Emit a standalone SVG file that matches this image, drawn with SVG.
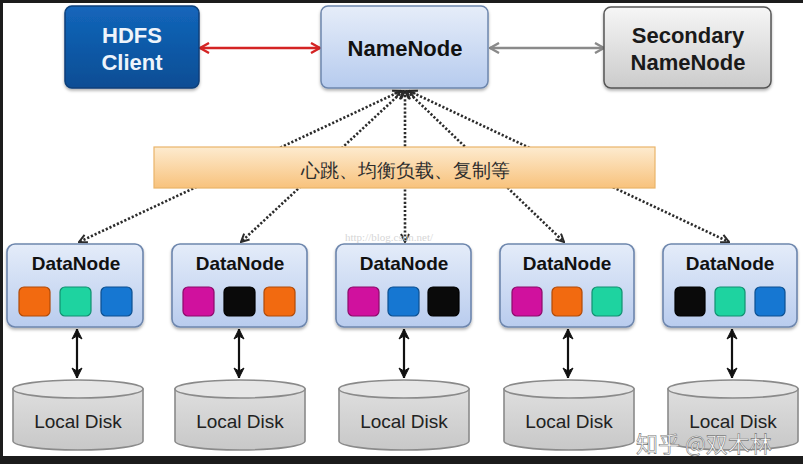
<svg xmlns="http://www.w3.org/2000/svg" width="803" height="464" viewBox="0 0 803 464">
<style>
.t{font-family:"Liberation Sans",Arial,sans-serif;text-anchor:middle}
.b{font-weight:bold}
.dot{fill:none;stroke:#2b2b2b;stroke-width:2.6;stroke-dasharray:2.2 1.9;marker-end:url(#chev);marker-start:url(#chevs)}
.dn{fill:url(#gDN);stroke:#6d86ad;stroke-width:1.6}
.sq{stroke-width:1.2}
.disk{fill:url(#gDisk);stroke:#8a8a8a;stroke-width:1.6}
.disktop{fill:#e6e6e6;stroke:#8a8a8a;stroke-width:1.6}
.va{stroke:#111;stroke-width:2.2;marker-start:url(#blkS);marker-end:url(#blkE)}
</style>
<defs>
<linearGradient id="gClient" x1="0" y1="0" x2="0" y2="1"><stop offset="0" stop-color="#1366bb"/><stop offset="1" stop-color="#0a4d94"/></linearGradient>
<linearGradient id="gNN" x1="0" y1="0" x2="0" y2="1"><stop offset="0" stop-color="#e6edf9"/><stop offset="1" stop-color="#b6cbee"/></linearGradient>
<linearGradient id="gSec" x1="0" y1="0" x2="0" y2="1"><stop offset="0" stop-color="#f6f6f6"/><stop offset="1" stop-color="#cbcbcb"/></linearGradient>
<linearGradient id="gDN" x1="0" y1="0" x2="0" y2="1"><stop offset="0" stop-color="#e4ecf9"/><stop offset="1" stop-color="#b9ccee"/></linearGradient>
<linearGradient id="gBand" x1="0" y1="0" x2="0" y2="1"><stop offset="0" stop-color="#fdebcf"/><stop offset="1" stop-color="#f8c27c"/></linearGradient>
<linearGradient id="gDisk" x1="0" y1="0" x2="0" y2="1"><stop offset="0" stop-color="#dedede"/><stop offset="1" stop-color="#c8c8c8"/></linearGradient>
<filter id="sh" x="-10%" y="-10%" width="120%" height="130%"><feDropShadow dx="0" dy="2" stdDeviation="1.5" flood-color="#000" flood-opacity="0.3"/></filter>
<marker id="chev" viewBox="0 0 10 10" refX="9" refY="5" markerWidth="10" markerHeight="10" markerUnits="userSpaceOnUse" orient="auto"><path d="M1,1 L9,5 L1,9" fill="none" stroke="#2b2b2b" stroke-width="2"/></marker>
<marker id="chevs" viewBox="0 0 10 10" refX="1" refY="5" markerWidth="10" markerHeight="10" markerUnits="userSpaceOnUse" orient="auto"><path d="M9,1 L1,5 L9,9" fill="none" stroke="#2b2b2b" stroke-width="2"/></marker>
<marker id="redE" viewBox="0 0 12 12" refX="11" refY="6" markerWidth="12" markerHeight="12" markerUnits="userSpaceOnUse" orient="auto"><path d="M2,1 L11,6 L2,11" fill="none" stroke="#d42424" stroke-width="2.4"/></marker>
<marker id="redS" viewBox="0 0 12 12" refX="1" refY="6" markerWidth="12" markerHeight="12" markerUnits="userSpaceOnUse" orient="auto"><path d="M10,1 L1,6 L10,11" fill="none" stroke="#d42424" stroke-width="2.4"/></marker>
<marker id="grE" viewBox="0 0 12 12" refX="11" refY="6" markerWidth="12" markerHeight="12" markerUnits="userSpaceOnUse" orient="auto"><path d="M2,1 L11,6 L2,11" fill="none" stroke="#8a8a8a" stroke-width="2.4"/></marker>
<marker id="grS" viewBox="0 0 12 12" refX="1" refY="6" markerWidth="12" markerHeight="12" markerUnits="userSpaceOnUse" orient="auto"><path d="M10,1 L1,6 L10,11" fill="none" stroke="#8a8a8a" stroke-width="2.4"/></marker>
<marker id="blkE" viewBox="0 0 12 12" refX="11" refY="6" markerWidth="12" markerHeight="12" markerUnits="userSpaceOnUse" orient="auto"><path d="M1,1 L11,6 L1,11 L4,6 Z" fill="#111" stroke="#111" stroke-width="1"/></marker>
<marker id="blkS" viewBox="0 0 12 12" refX="1" refY="6" markerWidth="12" markerHeight="12" markerUnits="userSpaceOnUse" orient="auto"><path d="M11,1 L1,6 L11,11 L8,6 Z" fill="#111" stroke="#111" stroke-width="1"/></marker>
</defs>

<rect width="803" height="464" fill="#ffffff"/>
<rect x="0" y="0" width="803" height="3" fill="#1c1c1c"/>
<rect x="0" y="0" width="3" height="464" fill="#1c1c1c"/>
<rect x="0" y="456" width="803" height="8" fill="#1c1c1c"/>

<g id="connectors">
<line x1="200" y1="48" x2="320" y2="48" stroke="#d42424" stroke-width="2.4" marker-start="url(#redS)" marker-end="url(#redE)"/>
<line x1="490" y1="48" x2="604" y2="48" stroke="#8a8a8a" stroke-width="2.4" marker-start="url(#grS)" marker-end="url(#grE)"/>
<line class="dot" x1="401" y1="91" x2="79" y2="242"/>
<line class="dot" x1="403" y1="91" x2="241" y2="242"/>
<line class="dot" x1="405" y1="91" x2="405" y2="242"/>
<line class="dot" x1="407" y1="91" x2="564" y2="242"/>
<line class="dot" x1="409" y1="91" x2="729" y2="242"/>
<line class="va" x1="77" y1="329" x2="77" y2="378"/>
<line class="va" x1="239" y1="329" x2="239" y2="378"/>
<line class="va" x1="404" y1="329" x2="404" y2="378"/>
<line class="va" x1="568" y1="329" x2="568" y2="378"/>
<line class="va" x1="732" y1="329" x2="732" y2="378"/>
</g>

<g id="band">
<rect x="154" y="147" width="501" height="41" fill="url(#gBand)" stroke="#eab46a" stroke-width="1.2"/>
<text class="t" x="405" y="177" font-size="19" fill="#2e2e2e" font-family="'Noto Sans CJK SC',sans-serif">心跳、均衡负载、复制等</text>
</g>

<g id="client">
<rect x="65" y="6" width="134" height="82" rx="7" fill="url(#gClient)" stroke="#0a3f7a" stroke-width="1.5" filter="url(#sh)"/>
<text class="t b" x="132" y="43" font-size="22" fill="#eef4fb">HDFS</text>
<text class="t b" x="132" y="70" font-size="22" fill="#eef4fb">Client</text>
</g>

<g id="namenode">
<rect x="321" y="6" width="167" height="82" rx="7" fill="url(#gNN)" stroke="#6d86ad" stroke-width="1.5" filter="url(#sh)"/>
<text class="t b" x="405" y="56" font-size="22" fill="#111">NameNode</text>
</g>

<g id="secondary">
<rect x="604" y="7" width="167" height="81" rx="7" fill="url(#gSec)" stroke="#555" stroke-width="1.5" filter="url(#sh)"/>
<text class="t b" x="688" y="43" font-size="22" fill="#1a1a1a">Secondary</text>
<text class="t b" x="688" y="70" font-size="22" fill="#1a1a1a">NameNode</text>
</g>

<g id="datanode1">
<rect class="dn" x="7" y="244" width="136" height="83" rx="8" filter="url(#sh)"/>
<text class="t b" x="76" y="270" font-size="19" fill="#111">DataNode</text>
<rect class="sq" x="19" y="287" width="31" height="29" rx="5" fill="#f26a10" stroke="#b04a08"/>
<rect class="sq" x="60" y="287" width="31" height="29" rx="5" fill="#1ed3a0" stroke="#119070"/>
<rect class="sq" x="101" y="287" width="31" height="29" rx="5" fill="#1677d2" stroke="#0c4f90"/>
</g>
<g id="datanode2">
<rect class="dn" x="172" y="244" width="135" height="83" rx="8" filter="url(#sh)"/>
<text class="t b" x="240" y="270" font-size="19" fill="#111">DataNode</text>
<rect class="sq" x="183" y="287" width="31" height="29" rx="5" fill="#d0119e" stroke="#8c0a6a"/>
<rect class="sq" x="224" y="287" width="31" height="29" rx="5" fill="#0a0a0a" stroke="#000"/>
<rect class="sq" x="264" y="287" width="31" height="29" rx="5" fill="#f26a10" stroke="#b04a08"/>
</g>
<g id="datanode3">
<rect class="dn" x="336" y="244" width="135" height="83" rx="8" filter="url(#sh)"/>
<text class="t b" x="404" y="270" font-size="19" fill="#111">DataNode</text>
<rect class="sq" x="348" y="287" width="31" height="29" rx="5" fill="#d0119e" stroke="#8c0a6a"/>
<rect class="sq" x="388" y="287" width="31" height="29" rx="5" fill="#1677d2" stroke="#0c4f90"/>
<rect class="sq" x="428" y="287" width="31" height="29" rx="5" fill="#0a0a0a" stroke="#000"/>
</g>
<g id="datanode4">
<rect class="dn" x="500" y="244" width="134" height="83" rx="8" filter="url(#sh)"/>
<text class="t b" x="567" y="270" font-size="19" fill="#111">DataNode</text>
<rect class="sq" x="512" y="287" width="30" height="29" rx="5" fill="#d0119e" stroke="#8c0a6a"/>
<rect class="sq" x="552" y="287" width="30" height="29" rx="5" fill="#f26a10" stroke="#b04a08"/>
<rect class="sq" x="592" y="287" width="30" height="29" rx="5" fill="#1ed3a0" stroke="#119070"/>
</g>
<g id="datanode5">
<rect class="dn" x="663" y="244" width="134" height="83" rx="8" filter="url(#sh)"/>
<text class="t b" x="730" y="270" font-size="19" fill="#111">DataNode</text>
<rect class="sq" x="675" y="287" width="30" height="29" rx="5" fill="#0a0a0a" stroke="#000"/>
<rect class="sq" x="715" y="287" width="30" height="29" rx="5" fill="#1ed3a0" stroke="#119070"/>
<rect class="sq" x="755" y="287" width="30" height="29" rx="5" fill="#1677d2" stroke="#0c4f90"/>
</g>

<g id="disk1">
<path class="disk" d="M13,389 L13,441 A65,9 0 0 0 143,441 L143,389 Z"/>
<ellipse class="disktop" cx="78" cy="389" rx="65" ry="9"/>
<text class="t" x="78" y="428" font-size="19" fill="#222">Local Disk</text>
</g>
<g id="disk2">
<path class="disk" d="M175,389 L175,441 A65,9 0 0 0 305,441 L305,389 Z"/>
<ellipse class="disktop" cx="240" cy="389" rx="65" ry="9"/>
<text class="t" x="240" y="428" font-size="19" fill="#222">Local Disk</text>
</g>
<g id="disk3">
<path class="disk" d="M339,389 L339,441 A65,9 0 0 0 469,441 L469,389 Z"/>
<ellipse class="disktop" cx="404" cy="389" rx="65" ry="9"/>
<text class="t" x="404" y="428" font-size="19" fill="#222">Local Disk</text>
</g>
<g id="disk4">
<path class="disk" d="M504,389 L504,441 A65,9 0 0 0 634,441 L634,389 Z"/>
<ellipse class="disktop" cx="569" cy="389" rx="65" ry="9"/>
<text class="t" x="569" y="428" font-size="19" fill="#222">Local Disk</text>
</g>
<g id="disk5">
<path class="disk" d="M668,389 L668,441 A65,9 0 0 0 798,441 L798,389 Z"/>
<ellipse class="disktop" cx="733" cy="389" rx="65" ry="9"/>
<text class="t" x="733" y="428" font-size="19" fill="#222">Local Disk</text>
</g>

<g id="watermarks">
<text x="345" y="241" font-size="11" fill="#d6d6d6" font-family="'Liberation Serif',serif">http://blog.csdn.net/</text>
<text x="636" y="452" font-size="22" fill="#ffffff" stroke="#777" stroke-width="0.6" font-family="'Noto Sans CJK SC',sans-serif">知乎 @双木林</text>
</g>
</svg>
